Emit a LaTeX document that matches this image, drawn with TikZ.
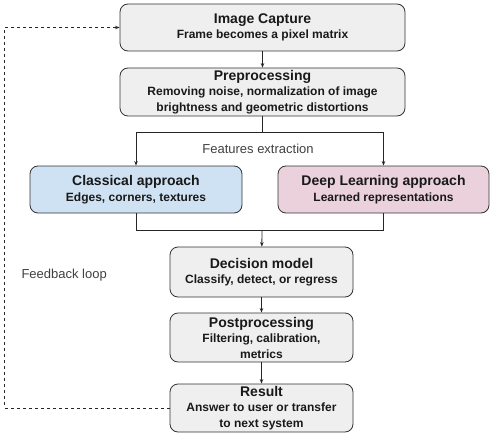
\documentclass[tikz,border=0pt]{standalone}
\usepackage{fontspec}
\setmainfont{Liberation Sans}
\usepackage{xcolor}
\usetikzlibrary{arrows.meta, positioning, calc}
\definecolor{boxgray}{HTML}{EFEFEF}
\definecolor{boxblue}{HTML}{CFE2F3}
\definecolor{boxpink}{HTML}{EAD1DC}
\definecolor{edgegray}{HTML}{333333}
\begin{document}
\begin{tikzpicture}[x=1pt, y=-1pt,
  stepbox/.style={draw=edgegray, line width=0.8pt, rounded corners=8pt, fill=boxgray, align=center,
    inner sep=0pt, text=black!90, font=\fontsize{12}{15.5}\selectfont\bfseries},
  arr/.style={-{Stealth[length=4.5pt,width=3.5pt]}, line width=0.8pt, draw=black!85},
  plain/.style={line width=0.8pt, draw=black!85},
  note/.style={font=\fontsize{13}{15}\selectfont, text=black!75}]
\useasboundingbox (0,0) rectangle (500,441);
\node[stepbox, minimum width=285pt, minimum height=47pt] (capture) at (262.5,27.5)
  {{\fontsize{14}{17}\selectfont Image Capture}\\Frame becomes a pixel matrix};
\node[stepbox, minimum width=285pt, minimum height=48pt] (pre) at (262.5,92)
  {{\fontsize{14}{17}\selectfont Preprocessing}\\Removing noise, normalization of image\\brightness and geometric distortions};
\node[stepbox, fill=boxblue, minimum width=212pt, minimum height=47pt] (classical) at (136,189.5)
  {{\fontsize{14}{17}\selectfont Classical approach}\\Edges, corners, textures};
\node[stepbox, fill=boxpink, minimum width=211pt, minimum height=47pt] (deep) at (383.5,189.5)
  {{\fontsize{14}{17}\selectfont Deep Learning approach}\\Learned representations};
\node[stepbox, minimum width=183pt, minimum height=50pt] (decision) at (261.5,272)
  {{\fontsize{14}{17}\selectfont Decision model}\\Classify, detect, or regress};
\node[stepbox, minimum width=183pt, minimum height=49pt] (post) at (261.5,337.5)
  {{\fontsize{14}{17}\selectfont Postprocessing}\\Filtering, calibration,\\metrics};
\node[stepbox, minimum width=183pt, minimum height=48pt] (result) at (261.5,408)
  {{\fontsize{14}{17}\selectfont Result}\\Answer to user or transfer\\to next system};
\node[note] (features) at (258,149) {Features extraction};
\node[note, anchor=west] (feedback) at (18,275) {Feedback loop};

\coordinate (split) at (262.5,132);
\coordinate (merge) at (262,230);

\draw[arr] (capture) -- (pre);
\draw[plain] (pre) -- (split);
\draw[arr] (split) -| (classical);
\draw[arr] (split) -| (deep);
\draw[plain] (classical) |- (merge);
\draw[plain] (deep) |- (merge);
\draw[arr] (merge) -- (decision);
\draw[arr] (decision) -- (post);
\draw[arr] (post) -- (result);
\draw[arr, dashed] (result.west) -- ++(-165,0) |- (capture.west);
\end{tikzpicture}
\end{document}
